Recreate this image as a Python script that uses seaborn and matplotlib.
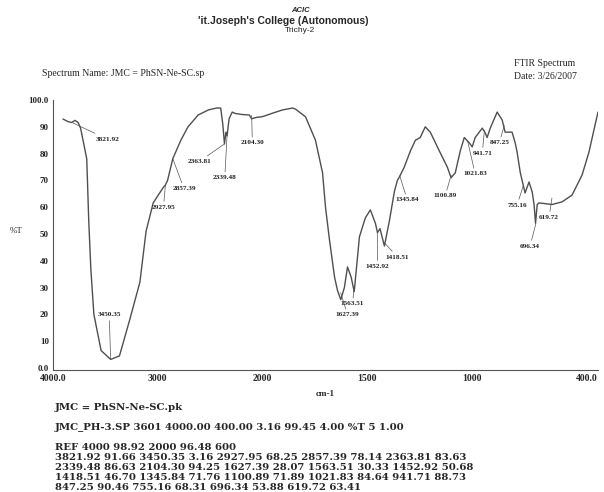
import numpy as np
import matplotlib.pyplot as plt
import seaborn as sns

# traced FTIR spectrum: wavenumber (cm-1) and transmittance (%T)
wavenumber = [3905, 3860, 3822, 3790, 3760, 3737, 3698, 3678, 3659, 3639, 3610, 3541,
              3450, 3366, 3268, 3171, 3112, 3044, 2946, 2928, 2907, 2857, 2780, 2712,
              2615, 2517, 2439, 2400, 2380, 2364, 2350, 2339, 2320, 2290, 2263, 2200,
              2127, 2104, 2060, 2000, 1952, 1905, 1857, 1843, 1795, 1748, 1714, 1700,
              1681, 1657, 1643, 1627, 1610, 1595, 1578, 1563, 1538, 1510, 1486, 1462,
              1452, 1440, 1419, 1395, 1371, 1357, 1346, 1324, 1295, 1271, 1248, 1224,
              1200, 1157, 1119, 1101, 1081, 1057, 1038, 1014, 1000, 986, 952, 938,
              929, 914, 881, 857, 843, 810, 795, 786, 771, 748, 729, 714,
              705, 698, 690, 681, 650, 619, 571, 524, 476, 443, 414, 400]
transmittance = [92.9, 92.0, 91.6, 92.4, 91.6, 89.5, 82.0, 78.0, 55.0, 37.0, 20.0, 6.5,
                 3.2, 4.5, 18.0, 32.0, 51.0, 61.6, 67.5, 68.2, 70.0, 78.1, 85.0, 90.0,
                 94.4, 96.3, 97.0, 97.0, 91.0, 83.6, 88.0, 86.6, 93.0, 95.5, 95.0, 94.6,
                 94.4, 93.0, 93.5, 93.8, 95.1, 96.3, 97.0, 96.6, 93.7, 85.0, 72.8, 60.0,
                 47.8, 34.0, 29.0, 25.5, 30.0, 37.7, 34.0, 28.5, 49.0, 56.0, 59.0, 54.0,
                 50.5, 52.0, 45.5, 55.0, 66.0, 70.0, 71.5, 75.0, 81.0, 85.0, 86.0, 90.0,
                 88.0, 81.0, 75.0, 71.0, 72.8, 81.0, 86.0, 84.0, 82.5, 86.0, 89.5, 87.7,
                 86.0, 89.5, 95.5, 92.5, 88.0, 88.0, 84.0, 80.6, 73.0, 65.3, 69.4, 65.7,
                 61.0, 54.0, 61.0, 61.6, 61.3, 61.0, 62.0, 64.5, 72.0, 80.6, 90.7, 95.5]

# peak table (printed below the chart and used for the labels)
peak_wn = [3821.92, 3450.35, 2927.95, 2857.39, 2363.81, 2339.48, 2104.30, 1627.39,
           1563.51, 1452.92, 1418.51, 1345.84, 1100.89, 1021.83, 941.71, 847.25,
           755.16, 696.34, 619.72]
peak_t = [91.66, 3.16, 68.25, 78.14, 83.63, 86.63, 94.25, 28.07, 30.33, 50.68,
          46.70, 71.76, 71.89, 84.64, 88.73, 90.46, 68.31, 53.88, 63.41]
# where each peak label sits
label_wn = [3483, 3463, 2946, 2751, 2605, 2361, 2098, 1595, 1571, 1452, 1357,
            1310, 1129, 986, 952, 871, 786, 724, 633]
label_t = [85.4, 19.8, 60, 67, 77, 71, 84, 19.8, 23.9, 38, 41.4, 62.7, 64.2,
           72.4, 80.2, 84, 60.8, 45.5, 56.3]

x_ticks = [4000, 3000, 2000, 1500, 1000, 400]
x_ticklabels = ['4000.0', '3000', '2000', '1500', '1000', '400.0']
y_ticks = [0, 10, 20, 30, 40, 50, 60, 70, 80, 90, 100]
y_ticklabels = ['0.0', '10', '20', '30', '40', '50', '60', '70', '80', '90', '100.0']

sns.set_style('white')
plt.rcParams['font.family'] = ['Liberation Serif', 'DejaVu Serif']

fig = plt.figure(figsize=(6.04, 4.92), dpi=100)
ax = fig.add_axes([53 / 604, 1 - 370 / 492, 545 / 604, 270 / 492])


# FTIR charts use a compressed scale above 2000 cm-1
def fwd(w):
    w = np.asarray(w, dtype=float)
    return np.where(w >= 2000, w, 2 * w - 2000)


def inv(u):
    u = np.asarray(u, dtype=float)
    return np.where(u >= 2000, u, (u + 2000) / 2)


ax.set_xscale('function', functions=(fwd, inv))

sns.lineplot(x=wavenumber, y=transmittance, ax=ax, color='#4f4f4f', linewidth=1.0,
             sort=False)

for pw, pt, lw_, lt in zip(peak_wn, peak_t, label_wn, label_t):
    ax.annotate(f'{pw:.2f}', xy=(pw, pt), xytext=(lw_, lt), fontsize=5.2,
                fontweight='bold', ha='center', va='center', color='#222222',
                arrowprops=dict(arrowstyle='-', lw=0.5, color='#555555',
                                shrinkA=0, shrinkB=0))

ax.set_xlim(4000, 400)
ax.set_ylim(-0.75, 100)
ax.set_xticks(x_ticks)
ax.set_xticklabels(x_ticklabels, fontsize=7, fontweight='bold')
ax.get_xticklabels()[-1].set_horizontalalignment('right')
ax.set_yticks(y_ticks)
ax.set_yticklabels(y_ticklabels, fontsize=6.5, fontweight='bold')
ax.tick_params(axis='both', direction='in', length=3, width=0.6, pad=3)
ax.minorticks_off()
ax.set_xlabel('cm-1', fontsize=6.5, fontweight='bold', labelpad=5)
ax.set_ylabel('%T', fontsize=6.5, rotation=0, labelpad=9)
sns.despine(ax=ax)
for s in ['left', 'bottom']:
    ax.spines[s].set_color('#555555')
    ax.spines[s].set_linewidth(0.8)


def put(x, y, s, **kw):
    fig.text(x / 604, 1 - y / 492, s, va='center', **kw)


# header
put(300, 10, 'ACIC', ha='center', fontsize=5.5, fontstyle='italic', fontweight='bold',
    family=['Liberation Sans', 'DejaVu Sans'])
put(283, 21, "'it.Joseph's College (Autonomous)", ha='center', fontsize=7.5,
    fontweight='bold', family=['Liberation Sans', 'DejaVu Sans'])
put(300, 31, 'Trichy-2', ha='center', fontsize=6, family=['Liberation Sans', 'DejaVu Sans'])
put(42, 73, 'Spectrum Name: JMC = PhSN-Ne-SC.sp', ha='left', fontsize=7)
put(514, 64, 'FTIR Spectrum', ha='left', fontsize=7)
put(514, 76, 'Date: 3/26/2007', ha='left', fontsize=7)

# footer with the peak table
foot = dict(ha='left', fontsize=7.3, fontweight='bold', family=['DejaVu Serif'])
put(55, 407, 'JMC = PhSN-Ne-SC.pk', **foot)
put(55, 428, 'JMC_PH-3.SP 3601 4000.00 400.00 3.16 99.45 4.00 %T 5 1.00', **foot)
put(55, 448, 'REF 4000 98.92 2000 96.48 600', **foot)
rows = [range(0, 5), range(5, 10), range(10, 15), range(15, 19)]
for i, r in enumerate(rows):
    line = ' '.join(f'{peak_wn[k]:.2f} {peak_t[k]:.2f}' for k in r)
    put(55, 458 + 10 * i, line, **foot)

fig.savefig('out.png', dpi=100)
